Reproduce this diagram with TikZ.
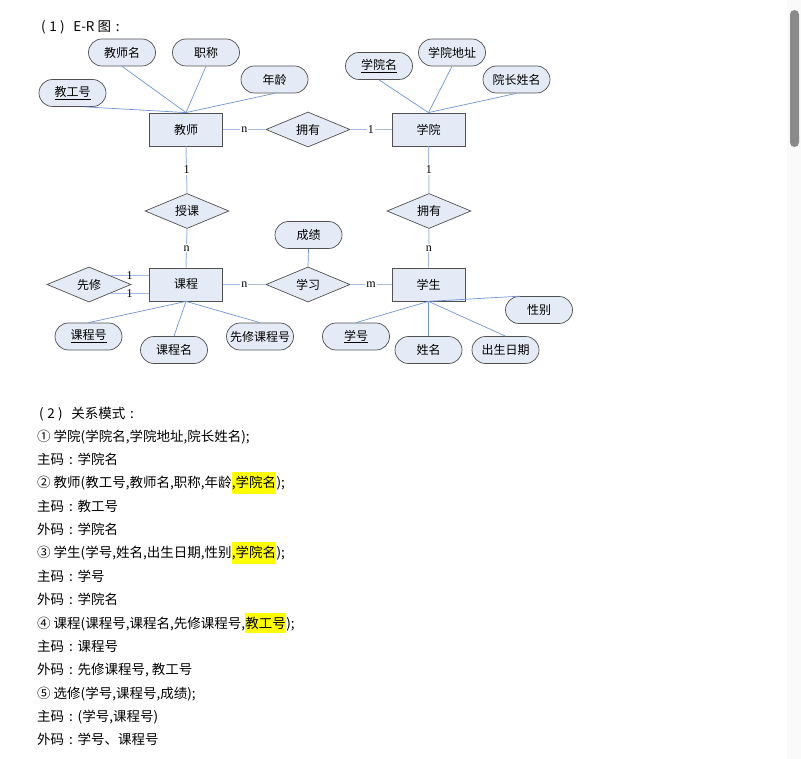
\documentclass[tikz,border=0pt]{standalone}
\usepackage{fontspec}
\setmainfont{Noto Sans CJK SC}
\newfontfamily\cardfont{Liberation Serif}
\usetikzlibrary{shapes,shadows}

\definecolor{boxfill}{RGB}{229,235,246}
\definecolor{boxdraw}{RGB}{80,80,80}
\definecolor{attrline}{RGB}{112,150,212}
\definecolor{relline}{RGB}{165,188,224}
\definecolor{hlyellow}{RGB}{255,255,0}
\definecolor{barthumb}{RGB}{138,138,138}
\definecolor{bartrack}{RGB}{250,250,250}

\newcommand{\fwcolon}{\makebox[13.5pt]{:}}
\newcommand{\secno}[1]{(\hspace{3.5pt}#1\hspace{3.5pt})\hspace{8.5pt}}

\tikzset{
  entity/.style={draw=boxdraw, fill=boxfill, line width=0.8pt, minimum width=73pt, minimum height=33pt, inner sep=0pt, font=\fontsize{12}{14}\selectfont, drop shadow={shadow xshift=0.8pt, shadow yshift=-0.8pt, fill=gray!70}},
  attr/.style={rounded rectangle, draw=boxdraw, fill=boxfill, line width=0.7pt, minimum width=67pt, minimum height=27pt, inner sep=0pt, font=\fontsize{12}{14}\selectfont},
  rel/.style={diamond, draw=boxdraw, fill=boxfill, line width=0.7pt, minimum width=84pt, minimum height=33pt, inner sep=0pt, font=\fontsize{12}{14}\selectfont},
  attrlink/.style={draw=attrline, line width=0.7pt},
  rellink/.style={draw=relline, line width=1pt},
  card/.style={fill=white, inner sep=1pt, font=\cardfont\fontsize{12}{13}\selectfont},
  txt/.style={anchor=base west, inner sep=0pt, font=\fontsize{13.5}{16}\selectfont},
  hl/.style={txt, fill=hlyellow, inner ysep=4pt},
}

\begin{document}
\begin{tikzpicture}[x=1pt, y=-1pt]
% page 801 x 759, y grows downwards
\fill[white] (0,0) rectangle (801,759);
\useasboundingbox (0,0) rectangle (801,759);
\fill[bartrack] (787,0) rectangle (801,759);
\fill[barthumb, rounded corners=4.5pt] (790,10) rectangle (799,147);

\node [txt] (title1) at (41,32) {\secno{1}E-R 图\fwcolon};

% entities
\node [entity] (teacher) at (186,129.5) {教师};
\node [entity] (college) at (428.5,129.5) {学院};
\node [entity] (course) at (186,284.5) {课程};
\node [entity] (student) at (428.5,284.5) {学生};

% relationships
\node [rel] (own1) at (308,129.5) {拥有};
\node [rel] (teach) at (187,211) {授课};
\node [rel] (own2) at (429,211) {拥有};
\node [rel] (study) at (308,284.5) {学习};
\node [rel] (prereq) at (89,284.5) {先修};

% attributes
\node [attr] (tno) at (72.5,93) {\underline{教工号}};
\node [attr] (tname) at (122,52.5) {教师名};
\node [attr] (ttitle) at (206,52.5) {职称};
\node [attr] (tage) at (274.5,79.5) {年龄};
\node [attr] (cname) at (379,66) {\underline{学院名}};
\node [attr] (caddr) at (452,52.5) {学院地址};
\node [attr] (cdean) at (516.5,79.5) {院长姓名};
\node [attr] (grade) at (308.5,235) {成绩};
\node [attr] (sno) at (356,336.5) {\underline{学号}};
\node [attr] (sname) at (428.5,350) {姓名};
\node [attr] (sbirth) at (505.5,350) {出生日期};
\node [attr] (ssex) at (539,310) {性别};
\node [attr] (kno) at (88.5,336.5) {\underline{课程号}};
\node [attr] (kname) at (174,350) {课程名};
\node [attr] (kpre) at (260,336.5) {先修课程号};

% attribute links
\draw [attrlink] ([xshift=12pt]tno.south) -- (teacher.north);
\draw [attrlink] (tname.south) -- (teacher.north);
\draw [attrlink] (ttitle.south) -- (teacher.north);
\draw [attrlink] (tage.south) -- (teacher.north);
\draw [attrlink] (cname.south) -- (college.north);
\draw [attrlink] (caddr.south) -- (college.north);
\draw [attrlink] (cdean.south) -- (college.north);
\draw [attrlink] (grade.south) -- (study.north);
\draw [attrlink] (student.south) -- (sno.north);
\draw [attrlink] (student.south) -- (sname.north);
\draw [attrlink] (student.south) -- (sbirth.north);
\draw [attrlink] (student.south) -- ([xshift=-19pt]ssex.north);
\draw [attrlink] (course.south) -- (kno.north);
\draw [attrlink] (course.south) -- (kname.north);
\draw [attrlink] (course.south) -- (kpre.north);

% relationship links
\draw [rellink] (teacher.east) -- node[card]{n} (own1.west);
\draw [rellink] (own1.east) -- node[card]{1} (college.west);
\draw [rellink] (teacher.south) -- node[card]{1} (teach.north);
\draw [rellink] (teach.south) -- node[card]{n} (course.north);
\draw [rellink] (college.south) -- node[card]{1} (own2.north);
\draw [rellink] (own2.south) -- node[card]{n} (student.north);
\draw [rellink] (course.east) -- node[card]{n} (study.west);
\draw [rellink] (study.east) -- node[card]{m} (student.west);
\draw [rellink] (prereq.north east) -- node[card, fill=none]{1} (prereq.north east -| course.west);
\draw [rellink] (prereq.south east) -- node[card, fill=none]{1} (prereq.south east -| course.west);

% relational schema
\node [txt] (title2) at (39,418) {\secno{2}关系模式\fwcolon};
\node [txt] (r1) at (37,442) {① 学院(学院名,学院地址,院长姓名);};
\node [txt] (r1pk) at (37,464) {主码\fwcolon 学院名};
\node [txt] (r2) at (37,487) {② 教师(教工号,教师名,职称,年龄};
\node [hl] (r2h) at (r2.base east) {,学院名};
\node [txt] at (r2h.base east) {);};
\node [txt] (r2pk) at (37,511) {主码\fwcolon 教工号};
\node [txt] (r2fk) at (37,534) {外码\fwcolon 学院名};
\node [txt] (r3) at (37,557) {③ 学生(学号,姓名,出生日期,性别};
\node [hl] (r3h) at (r3.base east) {,学院名};
\node [txt] at (r3h.base east) {);};
\node [txt] (r3pk) at (37,581) {主码\fwcolon 学号};
\node [txt] (r3fk) at (37,604) {外码\fwcolon 学院名};
\node [txt] (r4) at (37,628) {④ 课程(课程号,课程名,先修课程号,};
\node [hl] (r4h) at (r4.base east) {教工号};
\node [txt] at (r4h.base east) {);};
\node [txt] (r4pk) at (37,651) {主码\fwcolon 课程号};
\node [txt] (r4fk) at (37,674) {外码\fwcolon 先修课程号, 教工号};
\node [txt] (r5) at (37,698) {⑤ 选修(学号,课程号,成绩);};
\node [txt] (r5pk) at (37,721) {主码\fwcolon (学号,课程号)};
\node [txt] (r5fk) at (37,744) {外码\fwcolon 学号、课程号};
\end{tikzpicture}
\end{document}
